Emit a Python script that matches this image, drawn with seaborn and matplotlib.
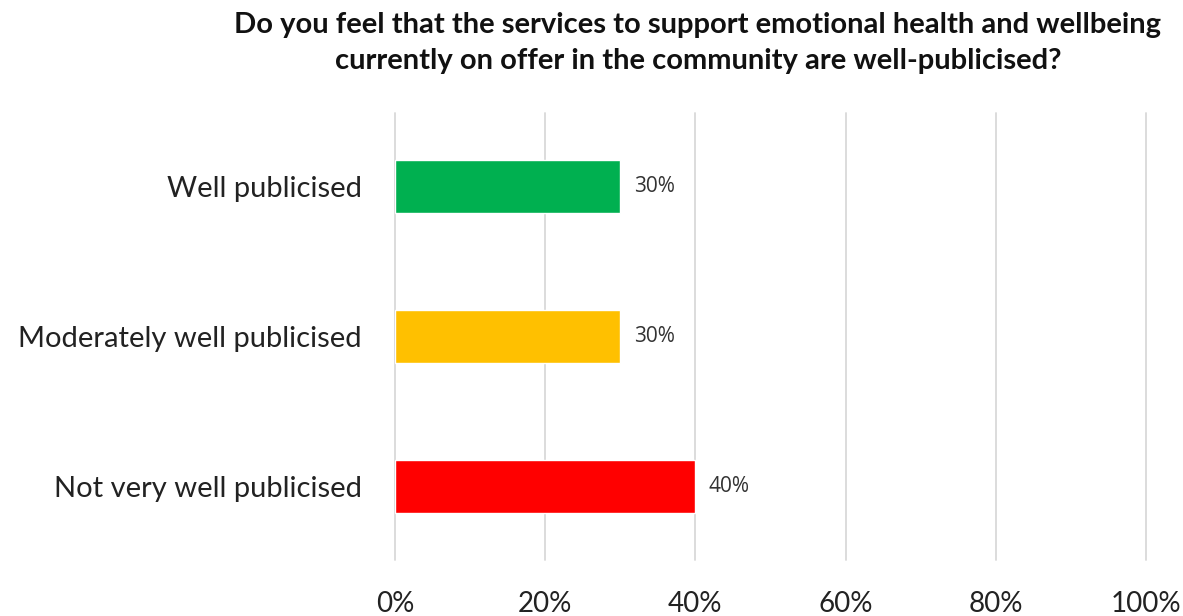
import matplotlib
matplotlib.use("Agg")
import matplotlib.pyplot as plt
import seaborn as sns
import pandas as pd

categories = ["Well publicised", "Moderately well publicised", "Not very well publicised"]
values = [30, 30, 40]
colors = ["#00B050", "#FFC000", "#FF0000"]
ticks = [0, 20, 40, 60, 80, 100]
tick_labels = ["0%", "20%", "40%", "60%", "80%", "100%"]
title = ("Do you feel that the services to support emotional health and wellbeing\n"
         "currently on offer in the community are well-publicised?")

sns.set_style("white")
plt.rcParams["font.family"] = ["Lato", "DejaVu Sans"]

df = pd.DataFrame({"category": categories, "value": values})

fig = plt.figure(figsize=(11.83, 6.16), dpi=100)
ax = fig.add_axes([0.3339, 0.0909, 0.6348, 0.7257])

sns.barplot(data=df, x="value", y="category", hue="category", palette=colors,
            legend=False, width=0.35, saturation=1, ax=ax, zorder=3)

ax.set_xlim(0, 100)
ax.set_ylim(2.49, -0.49)
ax.set_xticks(ticks)
ax.set_xticklabels(tick_labels, fontsize=20, color="#222222")
ax.tick_params(axis="x", length=0, pad=22)
ax.tick_params(axis="y", length=0, pad=24, labelsize=21, labelcolor="#222222")
ax.set_xlabel("")
ax.set_ylabel("")
ax.grid(axis="x", color="#D9D9D9", linewidth=1.3, zorder=0)
for line in ax.get_xgridlines():
    line.set_clip_on(False)
for s in ax.spines.values():
    s.set_visible(False)

for i, v in enumerate(values):
    ax.text(v + 1.8, i, f"{v}%", va="center", ha="left", fontsize=15,
            color="#333333", family=["Open Sans", "DejaVu Sans"])

fig.text(0.59, 0.98, title, ha="center", va="top", fontsize=21,
         fontweight="bold", linespacing=1.45, color="#111111")

fig.savefig("out.png", dpi=100)
